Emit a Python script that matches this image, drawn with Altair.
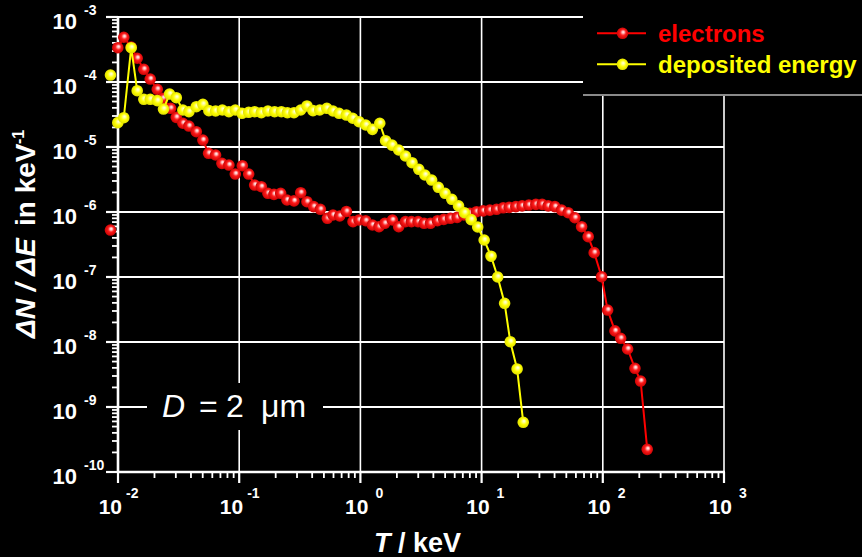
import altair as alt
import pandas as pd

# ---------------- data ----------------
T_e = [0.00867, 0.00996, 0.01116, 0.01285, 0.0144, 0.01633, 0.01845, 0.02109, 0.02344, 0.02716,
       0.03027, 0.03428, 0.03846, 0.04426, 0.05014, 0.05588, 0.06385, 0.07197, 0.08222, 0.09285,
       0.1061, 0.1197, 0.1341, 0.1522, 0.1725, 0.1935, 0.2199, 0.2478, 0.2831, 0.3217,
       0.3623, 0.4115, 0.4674, 0.5339, 0.5942, 0.6751, 0.7665, 0.869, 0.9736, 1.106,
       1.256, 1.424, 1.588, 1.837, 2.07, 2.353, 2.636, 2.99, 3.352, 3.785,
       4.324, 4.875, 5.534, 6.281, 7.129, 7.993, 9.076, 10.29, 11.69, 13.28,
       15.06, 16.87, 19.16, 21.58, 24.53, 28.03, 31.6, 35.41, 40.22, 45.7,
       51.82, 58.84, 66.85, 75.77, 84.92, 97.7, 109.6, 126.0, 140.4, 160.2,
       184.2, 205.2, 232.6]
N_e = [5.28e-7, 3.37e-4, 4.88e-4, 3.45e-4, 2.32e-4, 1.57e-4, 1.11e-4, 7.73e-5, 5.61e-5, 3.94e-5,
       2.86e-5, 2.32e-5, 2.10e-5, 1.72e-5, 1.28e-5, 8.0e-6, 7.53e-6, 5.61e-6, 5.28e-6, 3.84e-6,
       5.15e-6, 3.84e-6, 2.60e-6, 2.45e-6, 1.94e-6, 1.87e-6, 1.94e-6, 1.53e-6, 1.48e-6, 1.98e-6,
       1.44e-6, 1.21e-6, 1.10e-6, 8.0e-7, 8.99e-7, 8.68e-7, 1.02e-6, 7.1e-7, 7.53e-7, 7.35e-7,
       6.31e-7, 5.94e-7, 6.70e-7, 7.53e-7, 5.94e-7, 7.10e-7, 7.10e-7, 7.10e-7, 6.70e-7, 6.70e-7,
       7.35e-7, 7.71e-7, 8.0e-7, 8.28e-7, 8.99e-7, 9.55e-7, 1.01e-6, 1.04e-6, 1.07e-6, 1.10e-6,
       1.16e-6, 1.18e-6, 1.21e-6, 1.24e-6, 1.28e-6, 1.31e-6, 1.31e-6, 1.24e-6, 1.21e-6, 1.07e-6,
       9.75e-7, 8.16e-7, 5.94e-7, 4.17e-7, 2.37e-7, 1.01e-7, 3.10e-8, 1.48e-8, 1.14e-8, 7.8e-9,
       3.94e-9, 2.51e-9, 2.23e-10]

T_d = [0.00867, 0.00996, 0.01116, 0.01285, 0.0144, 0.01633, 0.01845, 0.02109, 0.02373, 0.02664,
       0.03027, 0.03428, 0.03846, 0.04426, 0.05014, 0.0562, 0.06385, 0.07257, 0.08222, 0.09285,
       0.1053, 0.1197, 0.1341, 0.1522, 0.1725, 0.1959, 0.2227, 0.2497, 0.2831, 0.3217,
       0.3623, 0.4063, 0.4615, 0.5285, 0.5942, 0.6668, 0.7665, 0.864, 0.9736, 1.106,
       1.256, 1.445, 1.614, 1.822, 2.07, 2.353, 2.667, 3.032, 3.405, 3.87,
       4.395, 4.994, 5.676, 6.453, 7.219, 8.2, 9.286, 10.5, 11.96, 13.57,
       15.48, 17.25, 19.63, 22.06]
N_d = [1.28e-4, 2.37e-5, 2.82e-5, 3.37e-4, 7.35e-5, 5.42e-5, 5.42e-5, 5.16e-5, 3.84e-5, 6.53e-5,
       5.73e-5, 3.71e-5, 3.49e-5, 4.17e-5, 4.54e-5, 3.62e-5, 3.58e-5, 3.71e-5, 3.49e-5, 3.71e-5,
       3.30e-5, 3.42e-5, 3.49e-5, 3.37e-5, 3.58e-5, 3.49e-5, 3.49e-5, 3.37e-5, 3.37e-5, 3.71e-5,
       4.28e-5, 3.62e-5, 3.71e-5, 3.94e-5, 3.58e-5, 3.30e-5, 3.10e-5, 2.77e-5, 2.45e-5, 2.18e-5,
       1.87e-5, 2.32e-5, 1.25e-5, 1.07e-5, 8.99e-6, 7.27e-6, 5.73e-6, 4.54e-6, 3.71e-6, 3.10e-6,
       2.40e-6, 1.94e-6, 1.57e-6, 1.24e-6, 9.75e-7, 7.64e-7, 5.88e-7, 3.71e-7, 2.09e-7, 1.0e-7,
       3.94e-8, 1.01e-8, 3.85e-9, 5.82e-10]

# the first point of each series (below 10^-2 keV) is drawn without a connecting line
first_connected = 1

x_exps = [-2, -1, 0, 1, 2, 3]
y_exps = [-10, -9, -8, -7, -6, -5, -4, -3]
minor_mult = [2, 3, 4, 5, 6, 7, 8, 9]
series_names = ["electrons", "deposited energy"]
series_colors = ["#ff0000", "#ffff00"]

# ---------------- styling ----------------
W, H = 606, 455
FONT = "Liberation Sans, Arial, sans-serif"
WHITE = "#ffffff"

xs = alt.Scale(type="log", domain=[1e-2, 1e3], nice=False)
ys = alt.Scale(type="log", domain=[1e-10, 1e-3], nice=False)


def X(f):
    return alt.X(f, type="quantitative", scale=xs, axis=None)


def Y(f):
    return alt.Y(f, type="quantitative", scale=ys, axis=None)


def one():
    return pd.DataFrame({"k": [0]})


def grad(stops):
    return {"gradient": "radial", "x1": 0.58, "y1": 0.38, "r1": 0.0,
            "x2": 0.5, "y2": 0.5, "r2": 0.55,
            "stops": [{"offset": o, "color": c} for o, c in stops]}


red_grad = grad([(0.0, "#ffffff"), (0.18, "#ffc8c8"), (0.45, "#ff1a1a"), (1.0, "#c00000")])
yel_grad = grad([(0.0, "#ffffff"), (0.2, "#ffffa0"), (0.5, "#ffff00"), (1.0, "#d8d800")])
grads = [red_grad, yel_grad]

df_e = pd.DataFrame({"T": T_e, "N": N_e})
df_d = pd.DataFrame({"T": T_d, "N": N_d})
xmaj = pd.DataFrame({"v": [10.0 ** e for e in x_exps], "e": x_exps, "lab": [str(e) for e in x_exps]})
ymaj = pd.DataFrame({"v": [10.0 ** e for e in y_exps], "e": y_exps, "lab": [str(e) for e in y_exps]})
xmin = pd.DataFrame({"v": [m * 10.0 ** e for e in x_exps[:-1] for m in minor_mult]})
ymin = pd.DataFrame({"v": [m * 10.0 ** e for e in y_exps[:-1] for m in minor_mult]})

layers = []

# grid lines
layers.append(alt.Chart(xmaj).transform_filter("datum.e > -2").mark_rule(color=WHITE, strokeWidth=1.6)
              .encode(x=X("v"), y=alt.value(0), y2=alt.value(H)))
layers.append(alt.Chart(ymaj).transform_filter("datum.e > -10").mark_rule(color=WHITE, strokeWidth=1.8)
              .encode(y=Y("v"), x=alt.value(0), x2=alt.value(W)))
# axis lines
layers.append(alt.Chart(one()).mark_rule(color=WHITE, strokeWidth=2.6)
              .encode(x=alt.value(0), y=alt.value(-1), y2=alt.value(H + 1)))
layers.append(alt.Chart(one()).mark_rule(color=WHITE, strokeWidth=2.6)
              .encode(y=alt.value(H), x=alt.value(0), x2=alt.value(W + 1)))
# ticks
layers.append(alt.Chart(ymaj).mark_rule(color=WHITE, strokeWidth=2.2)
              .encode(y=Y("v"), x=alt.value(-12), x2=alt.value(0)))
layers.append(alt.Chart(ymin).mark_rule(color=WHITE, strokeWidth=1.8)
              .encode(y=Y("v"), x=alt.value(-6), x2=alt.value(0)))
layers.append(alt.Chart(xmaj).mark_rule(color=WHITE, strokeWidth=2.2)
              .encode(x=X("v"), y=alt.value(H), y2=alt.value(H + 11)))
layers.append(alt.Chart(xmin).mark_rule(color=WHITE, strokeWidth=1.8)
              .encode(x=X("v"), y=alt.value(H), y2=alt.value(H + 6)))

# annotation box "D = 2 um"
layers.append(alt.Chart(one()).mark_rect(color="black")
              .encode(x=alt.value(29), x2=alt.value(205), y=alt.value(366), y2=alt.value(413)))
for txt, px, style in [("D", 44, "italic"), ("=", 81, "normal"), ("2", 108, "normal"), ("\u03bcm", 143, "normal")]:
    layers.append(alt.Chart(one()).mark_text(text=txt, font=FONT, fontSize=32, fontStyle=style,
                                              color=WHITE, align="left", baseline="alphabetic")
                  .encode(x=alt.value(px), y=alt.value(400)))

# legend box
layers.append(alt.Chart(one()).mark_rect(color="black")
              .encode(x=alt.value(465), x2=alt.value(746), y=alt.value(-20), y2=alt.value(78)))
layers.append(alt.Chart(one()).mark_rule(color="#8a8a8a", strokeWidth=2)
              .encode(y=alt.value(78), x=alt.value(465), x2=alt.value(746)))
for i, (name, col) in enumerate(zip(series_names, series_colors)):
    ly = 16.3 + 31 * i
    layers.append(alt.Chart(one()).mark_rule(color=col, strokeWidth=2)
                  .encode(y=alt.value(ly), x=alt.value(479), x2=alt.value(528)))
    layers.append(alt.Chart(one()).mark_circle(size=135, fill=grads[i], opacity=1)
                  .encode(x=alt.value(504.5), y=alt.value(ly)))
    layers.append(alt.Chart(one()).mark_text(text=name, font=FONT, fontSize=24, fontWeight="bold",
                                              color=col, align="left", baseline="alphabetic")
                  .encode(x=alt.value(540), y=alt.value(ly + 8.3)))

# data series
for df, col, g in [(df_e, series_colors[0], red_grad), (df_d, series_colors[1], yel_grad)]:
    layers.append(alt.Chart(df.iloc[first_connected:]).mark_line(color=col, strokeWidth=2)
                  .encode(x=X("T"), y=Y("N")))
    layers.append(alt.Chart(df).mark_circle(size=135, fill=g, opacity=1).encode(x=X("T"), y=Y("N")))

# y tick labels
layers.append(alt.Chart(ymaj).mark_text(text="10", font=FONT, fontSize=22, fontWeight="bold",
                                         color=WHITE, align="right", baseline="alphabetic", dy=12)
              .encode(y=Y("v"), x=alt.value(-41)))
layers.append(alt.Chart(ymaj).mark_text(font=FONT, fontSize=14, fontWeight="bold",
                                         color=WHITE, align="left", baseline="alphabetic", dy=-2)
              .encode(y=Y("v"), x=alt.value(-34), text="lab:N"))

# x tick labels
for cond, d10, dex in [("datum.e < 0", 4, 8), ("datum.e >= 0", 8, 15)]:
    layers.append(alt.Chart(xmaj).transform_filter(cond)
                  .mark_text(text="10", font=FONT, fontSize=21, fontWeight="bold", color=WHITE,
                             align="right", baseline="alphabetic", dx=d10)
                  .encode(x=X("v"), y=alt.value(H + 42)))
    layers.append(alt.Chart(xmaj).transform_filter(cond)
                  .mark_text(font=FONT, fontSize=14, fontWeight="bold", color=WHITE,
                             align="left", baseline="alphabetic", dx=dex)
                  .encode(x=X("v"), y=alt.value(H + 26), text="lab:N"))

# x title
layers.append(alt.Chart(one()).mark_text(text="T", font=FONT, fontSize=27, fontWeight="bold",
                                          fontStyle="italic", color=WHITE, align="left",
                                          baseline="alphabetic")
              .encode(x=alt.value(256), y=alt.value(535)))
layers.append(alt.Chart(one()).mark_text(text="/ keV", font=FONT, fontSize=27, fontWeight="bold",
                                          color=WHITE, align="left", baseline="alphabetic")
              .encode(x=alt.value(280), y=alt.value(535)))

# y title (rotated)
layers.append(alt.Chart(one()).mark_text(text="\u0394N / \u0394E", font=FONT, fontSize=28,
                                          fontWeight="bold", fontStyle="italic", color=WHITE,
                                          align="left", baseline="alphabetic", angle=270)
              .encode(x=alt.value(-83), y=alt.value(321)))
layers.append(alt.Chart(one()).mark_text(text="in keV", font=FONT, fontSize=28,
                                          fontWeight="bold", color=WHITE,
                                          align="left", baseline="alphabetic", angle=270)
              .encode(x=alt.value(-83), y=alt.value(209)))
layers.append(alt.Chart(one()).mark_text(text="-1", font=FONT, fontSize=16,
                                          fontWeight="bold", color=WHITE,
                                          align="left", baseline="alphabetic", angle=270)
              .encode(x=alt.value(-94), y=alt.value(127)))

chart = (alt.layer(*layers)
         .properties(width=W, height=H,
                     autosize=alt.AutoSizeParams(type="none"),
                     padding={"left": 118, "top": 17, "right": 138, "bottom": 85})
         .configure(background="black")
         .configure_view(stroke=None))

chart.save("out.html", embed_options={"renderer": "svg", "actions": False})
